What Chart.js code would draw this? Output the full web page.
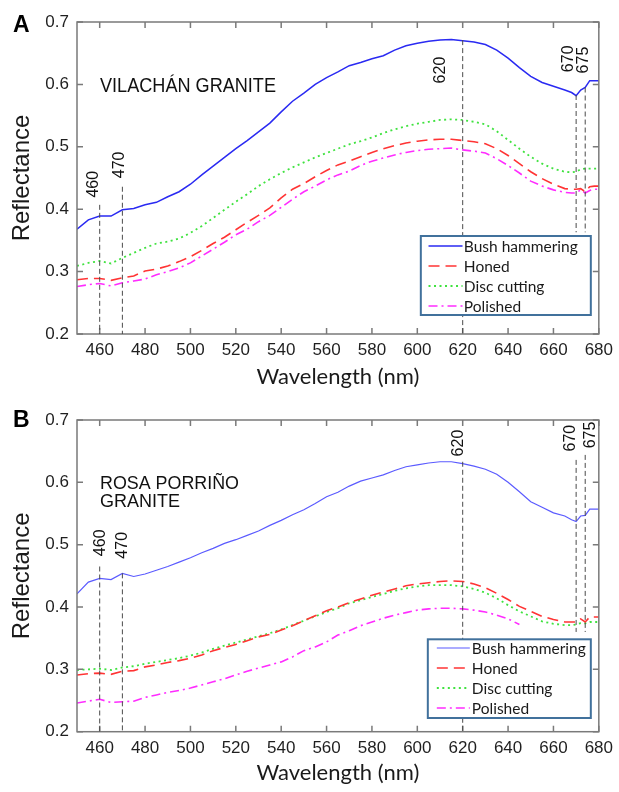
<!DOCTYPE html>
<html>
<head>
<meta charset="utf-8">
<script src="https://cdn.jsdelivr.net/npm/chart.js@4.4.1/dist/chart.umd.min.js"></script>
<style>
  html, body { margin: 0; padding: 0; background: #fff; }
  canvas { display: block; }
</style>
</head>
<body>
<canvas id="panelA" width="619" height="396"></canvas>
<canvas id="panelB" width="619" height="396"></canvas>
<script>
// wavelength grid (nm) shared by every curve
const wavelengths = [
  450, 455, 460, 465, 470, 475, 480, 485, 490, 495,
  500, 505, 510, 515, 520, 525, 530, 535, 540, 545,
  550, 555, 560, 565, 570, 575, 580, 585, 590, 595,
  600, 605, 610, 615, 620, 625, 630, 635, 640, 645,
  650, 655, 660, 665, 668, 670, 672, 674, 676, 678, 680
];
const seriesNames = ['Bush hammering', 'Honed', 'Disc cutting', 'Polished'];
const xTicks = [460, 480, 500, 520, 540, 560, 580, 600, 620, 640, 660, 680];
const yTicks = [0.2, 0.3, 0.4, 0.5, 0.6, 0.7];

// A - Vilachán granite
const aBush = [
  0.368, 0.383, 0.389, 0.389, 0.399, 0.401, 0.407, 0.411, 0.420, 0.428,
  0.440, 0.455, 0.469, 0.483, 0.497, 0.510, 0.524, 0.538, 0.556, 0.573,
  0.586, 0.600, 0.611, 0.620, 0.630, 0.635, 0.641, 0.646, 0.655, 0.662,
  0.666, 0.669, 0.671, 0.672, 0.670, 0.668, 0.664, 0.655, 0.642, 0.627,
  0.613, 0.603, 0.597, 0.591, 0.587, 0.582, 0.591, 0.595, 0.606, 0.606, 0.606
];
const aHoned = [
  0.287, 0.289, 0.289, 0.286, 0.290, 0.293, 0.301, 0.304, 0.309, 0.316,
  0.324, 0.334, 0.345, 0.355, 0.367, 0.379, 0.390, 0.402, 0.418, 0.432,
  0.441, 0.452, 0.462, 0.471, 0.477, 0.484, 0.491, 0.497, 0.502, 0.506,
  0.509, 0.511, 0.512, 0.512, 0.510, 0.508, 0.505, 0.497, 0.486, 0.473,
  0.460, 0.449, 0.440, 0.433, 0.432, 0.432, 0.433, 0.428, 0.436, 0.437, 0.437
];
const aDisc = [
  0.309, 0.314, 0.317, 0.313, 0.322, 0.330, 0.338, 0.345, 0.348, 0.353,
  0.362, 0.373, 0.386, 0.399, 0.412, 0.424, 0.437, 0.448, 0.458, 0.467,
  0.475, 0.483, 0.490, 0.497, 0.504, 0.509, 0.515, 0.522, 0.528, 0.533,
  0.537, 0.540, 0.543, 0.544, 0.543, 0.540, 0.536, 0.525, 0.511, 0.497,
  0.484, 0.473, 0.465, 0.460, 0.459, 0.460, 0.464, 0.465, 0.465, 0.465, 0.465
];
const aPolished = [
  0.276, 0.279, 0.281, 0.277, 0.282, 0.285, 0.288, 0.295, 0.300, 0.306,
  0.314, 0.325, 0.336, 0.347, 0.359, 0.368, 0.380, 0.390, 0.403, 0.416,
  0.428, 0.437, 0.447, 0.455, 0.461, 0.470, 0.477, 0.482, 0.487, 0.491,
  0.494, 0.496, 0.497, 0.498, 0.495, 0.493, 0.490, 0.481, 0.470, 0.458,
  0.445, 0.437, 0.431, 0.427, 0.426, 0.426, 0.431, 0.426, 0.430, 0.432, 0.432
];

// B - Rosa Porriño granite
const bBush = [
  0.421, 0.440, 0.446, 0.444, 0.454, 0.449, 0.453, 0.459, 0.465, 0.472,
  0.479, 0.487, 0.494, 0.502, 0.508, 0.515, 0.522, 0.531, 0.539, 0.548,
  0.556, 0.566, 0.577, 0.584, 0.594, 0.602, 0.607, 0.612, 0.619, 0.625,
  0.628, 0.631, 0.633, 0.633, 0.630, 0.626, 0.621, 0.613, 0.600, 0.585,
  0.569, 0.560, 0.551, 0.546, 0.540, 0.537, 0.546, 0.547, 0.557, 0.557, 0.557
];
const bHoned = [
  0.291, 0.293, 0.294, 0.292, 0.297, 0.298, 0.304, 0.307, 0.311, 0.314,
  0.318, 0.323, 0.330, 0.335, 0.340, 0.346, 0.352, 0.356, 0.363, 0.370,
  0.378, 0.386, 0.394, 0.400, 0.407, 0.413, 0.419, 0.424, 0.429, 0.434,
  0.437, 0.439, 0.441, 0.442, 0.441, 0.437, 0.431, 0.422, 0.412, 0.401,
  0.393, 0.385, 0.380, 0.376, 0.376, 0.376, 0.381, 0.376, 0.384, 0.384, 0.384
];
const bDisc = [
  0.299, 0.300, 0.301, 0.299, 0.303, 0.305, 0.309, 0.312, 0.315, 0.318,
  0.322, 0.327, 0.333, 0.338, 0.343, 0.348, 0.353, 0.358, 0.364, 0.371,
  0.378, 0.385, 0.392, 0.398, 0.406, 0.411, 0.416, 0.421, 0.426, 0.430,
  0.433, 0.435, 0.435, 0.435, 0.433, 0.429, 0.423, 0.414, 0.403, 0.393,
  0.385, 0.377, 0.373, 0.371, 0.371, 0.372, 0.374, 0.374, 0.376, 0.376, 0.376
];
const bPolished = [
  0.246, 0.249, 0.252, 0.247, 0.248, 0.249, 0.255, 0.259, 0.263, 0.266,
  0.270, 0.275, 0.280, 0.285, 0.291, 0.297, 0.302, 0.307, 0.312, 0.320,
  0.330, 0.336, 0.344, 0.355, 0.362, 0.370, 0.376, 0.382, 0.387, 0.391,
  0.395, 0.397, 0.398, 0.398, 0.397, 0.395, 0.392, 0.387, 0.381, 0.372,
  null, null, null, null, null, null, null, null, null, null, null
];

// marked wavelengths (where the dashed lines sit) and their labels
const markerLabels = ['460', '470', '620', '670', '675'];
const markersA = [460, 470, 620, 670, 674];
const markersB = [460, 470, 620, 670, 674];

// line styles per series
const styles = [
  { color: '#2a2af2', dash: [], width: 1.5 },
  { color: '#ff3434', dash: [11, 6], width: 1.6 },
  { color: '#3fe23f', dash: [2, 3.5], width: 1.8 },
  { color: '#ff2cff', dash: [9, 4, 2, 4], width: 1.6 }
];

function toPoints(values) {
  return wavelengths.map((w, i) => ({ x: w, y: values[i] }));
}

const decor = {
  id: 'decor',
  afterDraw(chart, args, o) {
    const ctx = chart.ctx;
    const a = chart.chartArea;
    const xs = chart.scales.x, ys = chart.scales.y;
    ctx.save();

    // frame + inward ticks
    ctx.strokeStyle = '#7a7a7a';
    ctx.lineWidth = 1.5;
    ctx.strokeRect(a.left, a.top, a.right - a.left, a.bottom - a.top);
    ctx.beginPath();
    xTicks.forEach(v => {
      const x = xs.getPixelForValue(v);
      ctx.moveTo(x, a.bottom); ctx.lineTo(x, a.bottom - 6);
      ctx.moveTo(x, a.top); ctx.lineTo(x, a.top + 6);
    });
    yTicks.forEach(v => {
      const y = ys.getPixelForValue(v);
      ctx.moveTo(a.left, y); ctx.lineTo(a.left + 6, y);
      ctx.moveTo(a.right, y); ctx.lineTo(a.right - 6, y);
    });
    ctx.stroke();

    // vertical marker lines with rotated labels
    o.markers.forEach((w, i) => {
      const x = xs.getPixelForValue(w);
      ctx.strokeStyle = '#4a4a4a';
      ctx.lineWidth = 1;
      ctx.setLineDash([5, 3]);
      ctx.beginPath();
      ctx.moveTo(x, ys.getPixelForValue(o.lineTop[i]));
      ctx.lineTo(x, ys.getPixelForValue(o.lineBottom[i]));
      ctx.stroke();
      ctx.setLineDash([]);
      ctx.save();
      ctx.translate(x + o.labelDx[i], ys.getPixelForValue(o.labelY[i]));
      ctx.rotate(-Math.PI / 2);
      ctx.fillStyle = '#111';
      ctx.font = '16px "Liberation Sans", Arial, sans-serif';
      ctx.textAlign = 'center';
      ctx.textBaseline = 'middle';
      ctx.fillText(markerLabels[i], 0, 0);
      ctx.restore();
    });

    // legend box
    const L = o.legend;
    const lx = a.right - L.right - L.w, ly = a.bottom - L.bottom - L.h;
    ctx.fillStyle = '#fff';
    ctx.fillRect(lx, ly, L.w, L.h);
    ctx.strokeStyle = '#41719c';
    ctx.lineWidth = 2;
    ctx.strokeRect(lx, ly, L.w, L.h);
    ctx.font = '15.5px Lato, "Open Sans", sans-serif';
    ctx.textBaseline = 'middle';
    ctx.textAlign = 'left';
    chart.data.datasets.forEach((ds, i) => {
      const y = ly + L.rowTop + i * L.rowGap;
      ctx.strokeStyle = ds.borderColor;
      ctx.lineWidth = ds.borderWidth;
      ctx.setLineDash(ds.borderDash || []);
      ctx.beginPath();
      ctx.moveTo(lx + L.line0, y);
      ctx.lineTo(lx + L.line1, y);
      ctx.stroke();
      ctx.setLineDash([]);
      ctx.fillStyle = '#1a1a1a';
      ctx.fillText(ds.label, lx + L.textX, y + 1);
    });

    // panel letter and sample name
    ctx.fillStyle = '#000';
    ctx.font = 'bold 23px "Liberation Sans", Arial, sans-serif';
    ctx.textBaseline = 'alphabetic';
    ctx.fillText(o.letter, 13, o.letterY);
    ctx.fillStyle = '#111';
    ctx.font = o.nameFont;
    o.name.forEach((t, i) => {
      ctx.fillText(t, a.left + 23, o.nameY[i], o.nameMax[i]);
    });

    ctx.restore();
  }
};

function makePanel(id, values, markers, lineColor0, xHeight, padTop, decorOpts) {
  const datasets = values.map((v, i) => ({
    label: seriesNames[i],
    data: toPoints(v),
    borderColor: i === 0 ? lineColor0 : styles[i].color,
    borderDash: styles[i].dash,
    borderWidth: i === 0 ? (lineColor0 === '#2a2af2' ? 1.5 : 1.2) : styles[i].width,
    pointRadius: 0,
    tension: 0,
    spanGaps: false,
    fill: false
  }));
  decorOpts.markers = markers;
  return new Chart(document.getElementById(id), {
    type: 'line',
    data: { datasets },
    options: {
      responsive: false,
      animation: false,
      devicePixelRatio: 1,
      layout: { padding: { top: padTop, right: 17, bottom: 0, left: 0 } },
      plugins: {
        legend: { display: false },
        tooltip: { enabled: false },
        decor: decorOpts
      },
      scales: {
        x: {
          type: 'linear',
          min: 450,
          max: 680,
          afterBuildTicks: s => { s.ticks = xTicks.map(v => ({ value: v })); },
          afterFit: s => { s.height = xHeight; },
          grid: { display: false, drawTicks: false },
          border: { display: false },
          ticks: {
            padding: 6,
            color: '#1f1f1f',
            font: { family: 'Liberation Sans', size: 17 },
            maxRotation: 0,
            callback: v => String(v)
          },
          title: {
            display: true,
            text: 'Wavelength (nm)',
            color: '#1a1a1a',
            font: { family: 'Lato', size: 22 },
            padding: { top: 0, bottom: 6 }
          }
        },
        y: {
          min: 0.2,
          max: 0.7,
          afterBuildTicks: s => { s.ticks = yTicks.map(v => ({ value: v })); },
          afterFit: s => { s.width = 77; },
          grid: { display: false, drawTicks: false },
          border: { display: false },
          ticks: {
            padding: 8,
            color: '#1f1f1f',
            font: { family: 'Liberation Sans', size: 17 },
            callback: v => v.toFixed(1)
          },
          title: {
            display: true,
            text: 'Reflectance',
            color: '#1a1a1a',
            font: { family: 'Liberation Sans', size: 24 },
            padding: { top: 8, bottom: 0 }
          }
        }
      }
    },
    plugins: [decor]
  });
}

makePanel('panelA', [aBush, aHoned, aDisc, aPolished], markersA, '#2a2af2', 62, 22, {
  lineTop: [0.407, 0.436, 0.671, 0.583, 0.595],
  lineBottom: [0.2, 0.2, 0.2, 0.363, 0.363],
  labelY: [0.440, 0.471, 0.623, 0.641, 0.639],
  labelDx: [-6.5, -3, -22.5, -8, -1.6],
  legend: { right: 8, bottom: 19, w: 170, h: 79, rowTop: 10, rowGap: 20, line0: 7.7, line1: 41.7, textX: 43 },
  letter: 'A', letterY: 32,
  name: ['VILACHÁN GRANITE'], nameY: [91.7], nameMax: [176],
  nameFont: '20px "Liberation Sans", Arial, sans-serif'
});

makePanel('panelB', [bBush, bHoned, bDisc, bPolished], markersB, '#5b5bff', 60.3, 24, {
  lineTop: [0.465, 0.454, 0.633, 0.636, 0.644],
  lineBottom: [0.2, 0.2, 0.2, 0.360, 0.360],
  labelY: [0.503, 0.499, 0.663, 0.671, 0.676],
  labelDx: [0.5, 0.7, -4, -5.3, 5.6],
  legend: { right: 8, bottom: 13.7, w: 163, h: 78.7, rowTop: 8.7, rowGap: 20, line0: 9, line1: 42, textX: 44 },
  letter: 'B', letterY: 30.7,
  name: ['ROSA PORRIÑO', 'GRANITE'], nameY: [93.3, 111.3], nameMax: [139, 80],
  nameFont: '18px "Liberation Sans", Arial, sans-serif'
});
</script>
</body>
</html>
